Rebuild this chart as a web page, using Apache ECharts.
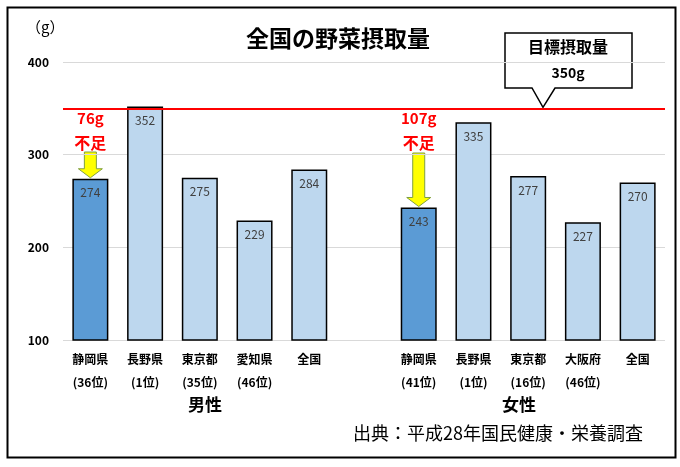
<!DOCTYPE html><html><head><meta charset="utf-8"><script src="https://cdn.jsdelivr.net/npm/echarts@6/dist/echarts.min.js"></script>
<style>body{margin:0}#c{width:680px;height:467px}</style></head><body><div id="c"></div><script>
const categories=['静岡県\n(36位)','長野県\n(1位)','東京都\n(35位)','愛知県\n(46位)','全国','','静岡県\n(41位)','長野県\n(1位)','東京都\n(16位)','大阪府\n(46位)','全国'];
const values=[274,352,275,229,284,null,243,335,277,227,270];
const highlight=[0,6];
const target=350;
const shortfalls=[{idx:0,text:'76g'},{idx:6,text:'107g'}];
const F='"Noto Sans CJK JP"';
const chart=echarts.init(document.getElementById('c'));
const opt={
 animation:false,
 textStyle:{fontFamily:F},
 grid:{left:63,right:15,top:62,bottom:127},
 xAxis:{type:'category',data:categories,axisLine:{show:false},axisTick:{show:false},
  axisLabel:{color:'#000',fontSize:12,lineHeight:23,fontWeight:'bold',margin:8,interval:0}},
 yAxis:{type:'value',min:100,max:400,interval:100,axisLabel:{color:'#000',fontSize:12,fontWeight:'bold',margin:14},
  splitLine:{lineStyle:{color:'#d9d9d9'}}},
 series:[{type:'bar',barWidth:36,
  data:values.map((v,i)=>({value:v,itemStyle:{color:highlight.includes(i)?'#5B9BD5':'#BDD7EE',borderColor:'#000',borderWidth:1.5}})),
  label:{show:true,position:'insideTop',color:'#404040',fontSize:12,distance:8},
  markLine:{symbol:'none',silent:true,label:{show:false},lineStyle:{color:'#f00',width:2,type:'solid'},data:[{yAxis:target}]}
 }],
 graphic:[
  {type:'rect',left:5,top:5,shape:{width:668,height:450},style:{fill:'none',stroke:'#000',lineWidth:2}},
  {type:'text',left:26,top:20,style:{text:'（g）',fontSize:15,fontFamily:F,fill:'#000'}},
  {type:'text',left:246,top:27,style:{text:'全国の野菜摂取量',fontSize:23,fontWeight:'bold',fontFamily:F,fill:'#000'}},
  {type:'text',left:188,top:396,style:{text:'男性',fontSize:17,fontWeight:'bold',fontFamily:F,fill:'#000'}},
  {type:'text',left:502,top:396,style:{text:'女性',fontSize:17,fontWeight:'bold',fontFamily:F,fill:'#000'}},
  {type:'text',left:353,top:424,style:{text:'出典：平成28年国民健康・栄養調査',fontSize:18,fontFamily:F,fill:'#000'}}
 ]
};
chart.setOption(opt);
const g=opt.graphic.slice();
const ty=chart.convertToPixel({yAxisIndex:0},target);
g.push({type:'polygon',shape:{points:[[505,33],[632,33],[632,88],[555,88],[543,ty-1],[532,88],[505,88]]},style:{fill:'#fff',stroke:'#000',lineWidth:1.5}});
g.push({type:'text',x:568,y:47,style:{text:'目標摂取量',fontSize:16,fontWeight:'bold',fontFamily:F,fill:'#000',align:'center',verticalAlign:'middle'}});
g.push({type:'text',x:568,y:73,style:{text:'350g',fontSize:14,fontWeight:'bold',fontFamily:F,fill:'#000',align:'center',verticalAlign:'middle'}});
shortfalls.forEach(s=>{
 const x=chart.convertToPixel({xAxisIndex:0},s.idx);
 const top=chart.convertToPixel({yAxisIndex:0},values[s.idx]);
 const a=s.idx===0?152:153;
 g.push({type:'text',x:x,y:118,style:{text:s.text,fontSize:15,fontWeight:'bold',fontFamily:F,fill:'#f00',align:'center',verticalAlign:'middle'}});
 g.push({type:'text',x:x,y:143,style:{text:'不足',fontSize:16,fontWeight:'bold',fontFamily:F,fill:'#f00',align:'center',verticalAlign:'middle'}});
 const hb=top-10;
 g.push({type:'polygon',shape:{points:[[x-6,a],[x+6,a],[x+6,hb],[x+12,hb],[x,top-1],[x-12,hb],[x-6,hb]]},style:{fill:'#ffff00',stroke:'#7f9f3f',lineWidth:1}});
});
chart.setOption({graphic:g});
</script></body></html>
